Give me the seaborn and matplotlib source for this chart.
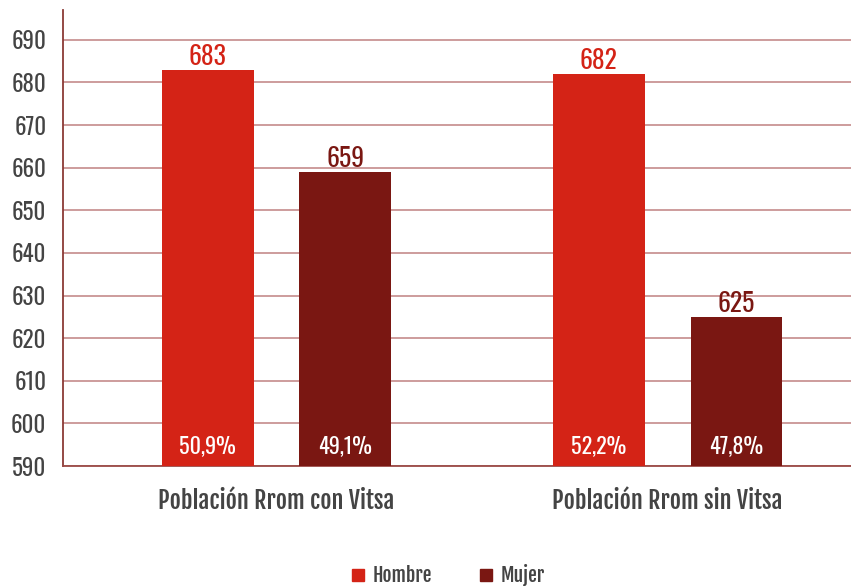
import pandas as pd
import seaborn as sns
import matplotlib.pyplot as plt
from matplotlib import font_manager as fm
from matplotlib.lines import Line2D

# -----------------------------------------------------------------------------
# Data
# -----------------------------------------------------------------------------
GRUPOS = ["Población Rrom con Vitsa", "Población Rrom sin Vitsa"]
SEXOS = ["Hombre", "Mujer"]
HOMBRE = [683, 682]
MUJER = [659, 625]
PCT_HOMBRE = ["50,9%", "52,2%"]
PCT_MUJER = ["49,1%", "47,8%"]
Y_TICKS = [590, 600, 610, 620, 630, 640, 650, 660, 670, 680, 690]

COLORS = {"Hombre": "#D42316", "Mujer": "#7A1712"}
TEXT_GRAY = "#444444"
FONT = ["Oswald", "DejaVu Sans"]
BOLD_PATH = fm.findfont(fm.FontProperties(family="Fjalla One"))


def main():
    df = pd.DataFrame({
        "grupo": GRUPOS * 2,
        "sexo": [SEXOS[0]] * 2 + [SEXOS[1]] * 2,
        "valor": HOMBRE + MUJER,
    })

    sns.set_style("white")
    plt.rcParams["font.family"] = FONT

    fig = plt.figure(figsize=(8.51, 5.86), dpi=100)
    ax = fig.add_axes([63 / 851, 1 - 466 / 586, 1 - 63 / 851, (466 - 10) / 586])

    sns.barplot(
        data=df, x="grupo", y="valor", hue="sexo",
        palette=COLORS, saturation=1, width=0.705, gap=0.333,
        linewidth=0, ax=ax, legend=False, zorder=3,
    )

    ax.set_ylim(590, 697)
    ax.set_xlim(-0.546, 1.469)
    ax.set_yticks(Y_TICKS)
    ax.yaxis.grid(True, color="#C99494", linewidth=1.3, zorder=0)
    ax.set_axisbelow(True)

    for side in ["top", "right"]:
        ax.spines[side].set_visible(False)
    ax.spines["left"].set_color("#8B3A36")
    ax.spines["bottom"].set_color("#9B4A46")
    ax.spines["left"].set_linewidth(1.3)
    ax.spines["bottom"].set_linewidth(1.3)

    ax.tick_params(axis="y", length=0, pad=12, labelsize=16.5, labelcolor=TEXT_GRAY)
    ax.tick_params(axis="x", length=0, pad=16, labelcolor=TEXT_GRAY)
    ax.set_xticks(range(len(GRUPOS)), GRUPOS)
    for lbl in ax.get_xticklabels():
        lbl.set_fontproperties(fm.FontProperties(fname=BOLD_PATH, size=17.5))
    ax.set_xlabel("")
    ax.set_ylabel("")

    # value labels on top, percentages at the base
    pct_by_sexo = {"Hombre": PCT_HOMBRE, "Mujer": PCT_MUJER}
    for container, sexo in zip(ax.containers, SEXOS):
        ax.bar_label(container, fmt="%d", padding=0, fontsize=18.5,
                     color=COLORS[sexo])
        for patch, pct in zip(container.patches, pct_by_sexo[sexo]):
            cx = patch.get_x() + patch.get_width() / 2
            ax.text(cx, 592.0, pct, ha="center", va="bottom",
                    fontsize=16, color="white", zorder=4)

    handles = [
        Line2D([0], [0], marker="s", linestyle="", markersize=8,
               markerfacecolor=COLORS[s], markeredgecolor=COLORS[s], label=s)
        for s in SEXOS
    ]
    fig.legend(
        handles=handles, loc="lower center", bbox_to_anchor=(0.526, -0.03),
        ncol=2, frameon=False, handlelength=0.8, handletextpad=0.35,
        columnspacing=2.4, prop=fm.FontProperties(fname=BOLD_PATH, size=14),
        labelcolor=TEXT_GRAY,
    )

    fig.savefig("out.png", dpi=100)


if __name__ == "__main__":
    main()
